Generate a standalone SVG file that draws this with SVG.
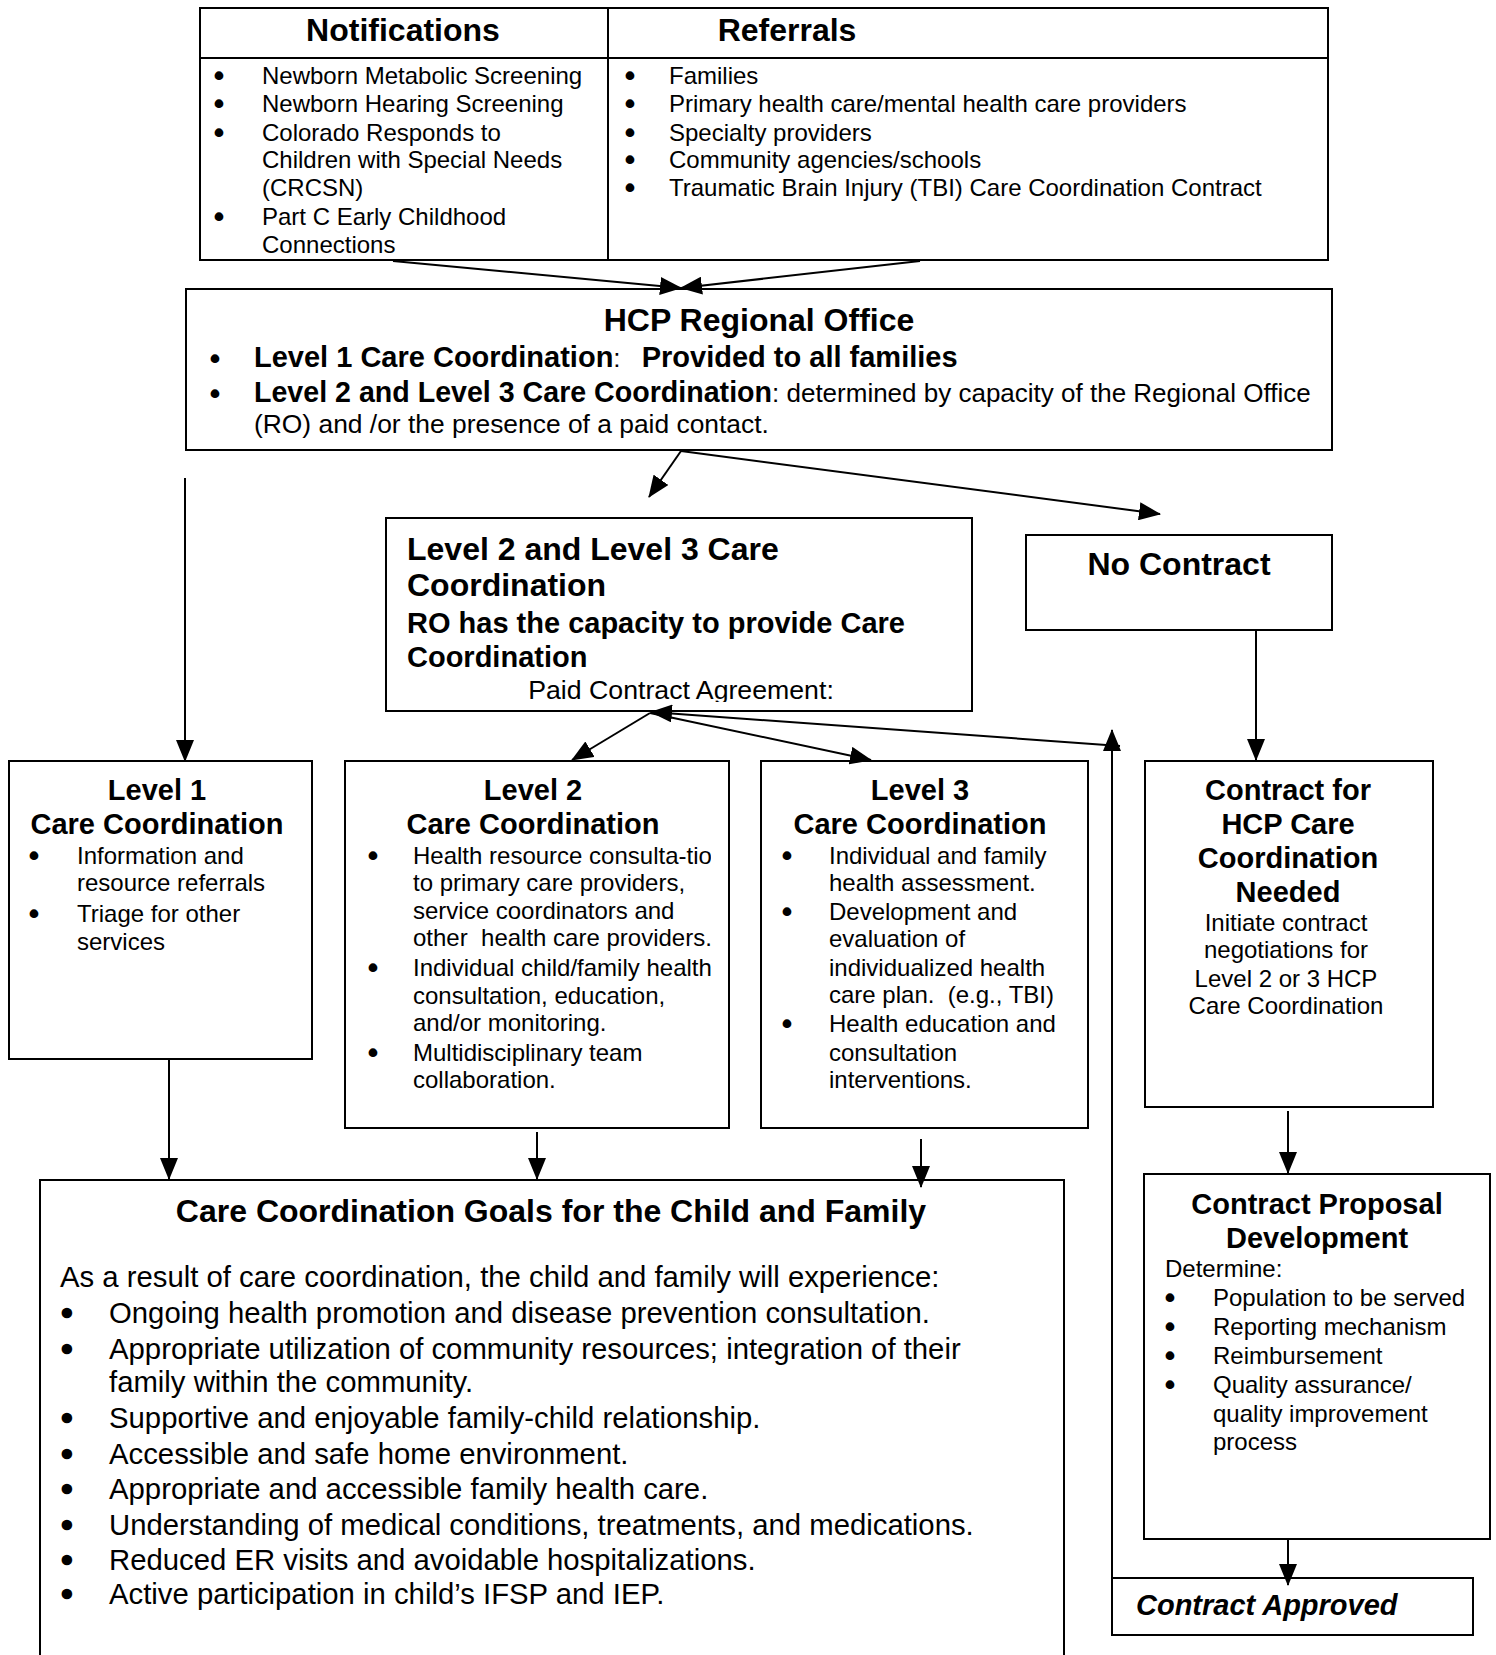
<svg xmlns="http://www.w3.org/2000/svg" width="1496" height="1655" viewBox="0 0 1496 1655">
<style>
.box{fill:#fff;stroke:#000;stroke-width:2}
text{font-family:"Liberation Sans",Arial,sans-serif;font-size:24px;fill:#000}
.b{font-weight:bold;font-size:29px}
.h{font-weight:bold;font-size:32px}
.m{font-size:26px}
.g{font-size:29.3px}
.c{text-anchor:middle}
.bl{text-anchor:middle;stroke:#000;stroke-width:2.2px}
.blg{font-size:29.3px;text-anchor:middle;stroke:#000;stroke-width:2.6px}
.cn{stroke:#000;stroke-width:2;fill:none;marker-end:url(#arr)}
</style>
<defs>
<marker id="arr" markerUnits="userSpaceOnUse" markerWidth="22" markerHeight="18" refX="21" refY="9" orient="auto">
<path d="M0,0 L22,9 L0,18 z" fill="#000"/>
</marker>
<clipPath id="clipL23"><rect x="386" y="518" width="586" height="184"/></clipPath>
<clipPath id="clipL2"><rect x="345" y="761" width="366" height="366"/></clipPath>
</defs>
<rect width="1496" height="1655" fill="#fff"/>

<g id="sources">
<rect class="box" x="200" y="8" width="1128" height="252"/>
<line x1="200" y1="58" x2="1328" y2="58" stroke="#000" stroke-width="2"/>
<line x1="608" y1="8" x2="608" y2="260" stroke="#000" stroke-width="2"/>
<text class="h c" x="403" y="41">Notifications</text>
<text class="h c" x="787" y="41">Referrals</text>
<text class="bl" x="219" y="84">•</text><text x="262" y="84">Newborn Metabolic Screening</text>
<text class="bl" x="219" y="112">•</text><text x="262" y="112">Newborn Hearing Screening</text>
<text class="bl" x="219" y="141">•</text><text x="262" y="141">Colorado Responds to</text>
<text x="262" y="168">Children with Special Needs</text>
<text x="262" y="196">(CRCSN)</text>
<text class="bl" x="219" y="225">•</text><text x="262" y="225">Part C Early Childhood</text>
<text x="262" y="253">Connections</text>
<text class="bl" x="630" y="84">•</text><text x="669" y="84">Families</text>
<text class="bl" x="630" y="112">•</text><text x="669" y="112">Primary health care/mental health care providers</text>
<text class="bl" x="630" y="141">•</text><text x="669" y="141">Specialty providers</text>
<text class="bl" x="630" y="168">•</text><text x="669" y="168">Community agencies/schools</text>
<text class="bl" x="630" y="196">•</text><text x="669" y="196">Traumatic Brain Injury (TBI) Care Coordination Contract</text>
</g>

<g id="hcp">
<rect class="box" x="186" y="289" width="1146" height="161"/>
<text class="h c" x="759" y="331">HCP Regional Office</text>
<text class="bl" x="215" y="367">•</text>
<text x="254" y="367" xml:space="preserve"><tspan class="b">Level 1 Care Coordination</tspan><tspan class="m">:</tspan><tspan class="b" dx="5">  Provided to all families</tspan></text>
<text class="bl" x="215" y="402">•</text>
<text x="254" y="402"><tspan class="b" style="font-size:28.6px">Level 2 and Level 3 Care Coordination</tspan><tspan class="m">: determined by capacity of the Regional Office</tspan></text>
<text x="254" y="433" style="font-size:26.4px">(RO) and /or the presence of a paid contact.</text>
</g>

<g id="level23">
<rect class="box" x="386" y="518" width="586" height="193"/>
<text class="h" x="407" y="560">Level 2 and Level 3 Care</text>
<text class="h" x="407" y="596">Coordination</text>
<text class="b" x="407" y="633">RO has the capacity to provide Care</text>
<text class="b" x="407" y="667">Coordination</text>
<text class="c" x="681" y="699" style="font-size:26.7px" clip-path="url(#clipL23)">Paid Contract Agreement:</text>
</g>

<g id="nocontract">
<rect class="box" x="1026" y="535" width="306" height="95"/>
<text class="h c" x="1179" y="575">No Contract</text>
</g>

<g id="level1">
<rect class="box" x="9" y="761" width="303" height="298"/>
<text class="b c" x="157" y="800">Level 1</text>
<text class="b c" x="157" y="834">Care Coordination</text>
<text class="bl" x="34" y="864">•</text><text x="77" y="864">Information and</text>
<text x="77" y="891">resource referrals</text>
<text class="bl" x="34" y="922">•</text><text x="77" y="922">Triage for other</text>
<text x="77" y="950">services</text>
</g>

<g id="level2">
<rect class="box" x="345" y="761" width="384" height="367"/>
<text class="b c" x="533" y="800">Level 2</text>
<text class="b c" x="533" y="834">Care Coordination</text>
<g clip-path="url(#clipL2)">
<text class="bl" x="373" y="864">•</text><text x="413" y="864">Health resource consulta-tio</text>
<text x="413" y="891">to primary care providers,</text>
<text x="413" y="919">service coordinators and</text>
<text x="413" y="946" xml:space="preserve">other  health care providers.</text>
<text class="bl" x="373" y="976">•</text><text x="413" y="976">Individual child/family health</text>
<text x="413" y="1004">consultation, education,</text>
<text x="413" y="1031">and/or monitoring.</text>
<text class="bl" x="373" y="1061">•</text><text x="413" y="1061">Multidisciplinary team</text>
<text x="413" y="1088">collaboration.</text>
</g>
</g>

<g id="level3">
<rect class="box" x="761" y="761" width="327" height="367"/>
<text class="b c" x="920" y="800">Level 3</text>
<text class="b c" x="920" y="834">Care Coordination</text>
<text class="bl" x="787" y="864">•</text><text x="829" y="864">Individual and family</text>
<text x="829" y="891">health assessment.</text>
<text class="bl" x="787" y="920">•</text><text x="829" y="920">Development and</text>
<text x="829" y="947">evaluation of</text>
<text x="829" y="976">individualized health</text>
<text x="829" y="1003" xml:space="preserve">care plan.  (e.g., TBI)</text>
<text class="bl" x="787" y="1032">•</text><text x="829" y="1032">Health education and</text>
<text x="829" y="1061">consultation</text>
<text x="829" y="1088">interventions.</text>
</g>

<g id="contractfor">
<rect class="box" x="1145" y="761" width="288" height="346"/>
<text class="b c" x="1288" y="800">Contract for</text>
<text class="b c" x="1288" y="834">HCP Care</text>
<text class="b c" x="1288" y="868">Coordination</text>
<text class="b c" x="1288" y="902">Needed</text>
<text class="c" x="1286" y="931">Initiate contract</text>
<text class="c" x="1286" y="958">negotiations for</text>
<text class="c" x="1286" y="987">Level 2 or 3 HCP</text>
<text class="c" x="1286" y="1014">Care Coordination</text>
</g>

<g id="proposal">
<rect class="box" x="1144" y="1174" width="346" height="365"/>
<text class="b c" x="1317" y="1214">Contract Proposal</text>
<text class="b c" x="1317" y="1248">Development</text>
<text x="1165" y="1277">Determine:</text>
<text class="bl" x="1170" y="1306">•</text><text x="1213" y="1306">Population to be served</text>
<text class="bl" x="1170" y="1335">•</text><text x="1213" y="1335">Reporting mechanism</text>
<text class="bl" x="1170" y="1364">•</text><text x="1213" y="1364">Reimbursement</text>
<text class="bl" x="1170" y="1393">•</text><text x="1213" y="1393">Quality assurance/</text>
<text x="1213" y="1422">quality improvement</text>
<text x="1213" y="1450">process</text>
</g>

<g id="approved">
<rect class="box" x="1112" y="1578" width="361" height="57"/>
<text class="b" x="1136" y="1615" font-style="italic">Contract Approved</text>
</g>

<g id="goals">
<rect class="box" x="40" y="1180" width="1024" height="520"/>
<text class="h c" x="551" y="1222">Care Coordination Goals for the Child and Family</text>
<text class="g" x="60" y="1287">As a result of care coordination, the child and family will experience:</text>
<text class="blg" x="67" y="1323">•</text><text class="g" x="109" y="1323">Ongoing health promotion and disease prevention consultation.</text>
<text class="blg" x="67" y="1359">•</text><text class="g" x="109" y="1359">Appropriate utilization of community resources; integration of their</text>
<text class="g" x="109" y="1392">family within the community.</text>
<text class="blg" x="67" y="1428">•</text><text class="g" x="109" y="1428">Supportive and enjoyable family-child relationship.</text>
<text class="blg" x="67" y="1464">•</text><text class="g" x="109" y="1464">Accessible and safe home environment.</text>
<text class="blg" x="67" y="1499">•</text><text class="g" x="109" y="1499">Appropriate and accessible family health care.</text>
<text class="blg" x="67" y="1535">•</text><text class="g" x="109" y="1535">Understanding of medical conditions, treatments, and medications.</text>
<text class="blg" x="67" y="1570">•</text><text class="g" x="109" y="1570">Reduced ER visits and avoidable hospitalizations.</text>
<text class="blg" x="67" y="1604">•</text><text class="g" x="109" y="1604">Active participation in child’s IFSP and IEP.</text>
</g>

<g id="connectors">
<line class="cn" x1="393" y1="261" x2="681" y2="288"/>
<line class="cn" x1="920" y1="261" x2="681" y2="288"/>
<line class="cn" x1="681" y1="451" x2="649" y2="497"/>
<line class="cn" x1="681" y1="451" x2="1160" y2="514"/>
<line class="cn" x1="185" y1="478" x2="185" y2="761"/>
<line class="cn" x1="1256" y1="630" x2="1256" y2="760"/>
<line class="cn" x1="650" y1="713" x2="572" y2="760"/>
<line class="cn" x1="650" y1="713" x2="871" y2="760"/>
<line class="cn" x1="1112" y1="1610" x2="1112" y2="730"/>
<line class="cn" x1="1120" y1="746" x2="651" y2="712"/>
<line class="cn" x1="169" y1="1059" x2="169" y2="1179"/>
<line class="cn" x1="537" y1="1132" x2="537" y2="1179"/>
<line class="cn" x1="921" y1="1139" x2="921" y2="1187"/>
<line class="cn" x1="1288" y1="1111" x2="1288" y2="1173"/>
<line class="cn" x1="1288" y1="1539" x2="1288" y2="1585"/>
</g>
</svg>
